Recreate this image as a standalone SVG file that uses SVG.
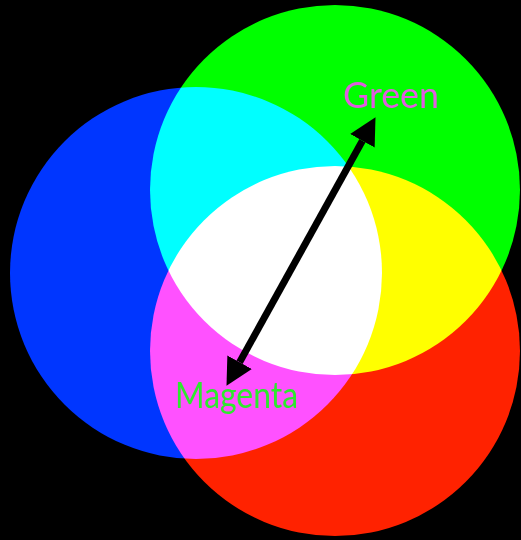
<svg xmlns="http://www.w3.org/2000/svg" width="521" height="540" viewBox="0 0 521 540">
  <style>
    .c { mix-blend-mode: screen; }
    .lbl { font-family: Lato, "Open Sans", "Liberation Sans", sans-serif; font-size: 36px; }
    .arrow { stroke: #000; stroke-width: 7; fill: none; }
  </style>
  <defs>
    <marker id="ah" markerUnits="userSpaceOnUse" markerWidth="28" markerHeight="28" refX="0" refY="14" orient="auto-start-reverse" viewBox="0 0 28 28">
      <path d="M0,0 L27,14 L0,28 z" fill="#000"/>
    </marker>
  </defs>
  <rect width="521" height="540" fill="#000"/>
  <g style="isolation:isolate">
    <g id="blue"><circle class="c" cx="196" cy="273" r="186" fill="#0036ff"/></g>
    <g id="green"><circle class="c" cx="335" cy="190" r="185" fill="#00ff00"/></g>
    <g id="red"><circle class="c" cx="335" cy="351" r="185" fill="#ff2200"/></g>
  </g>
  <g id="connectors">
    <line class="arrow" x1="239.6" y1="362.2" x2="362.4" y2="140.8" marker-start="url(#ah)" marker-end="url(#ah)"/>
  </g>
  <g id="label-green"><text class="lbl" x="343" y="108" fill="#e05ce0" textLength="96" lengthAdjust="spacingAndGlyphs">Green</text></g>
  <g id="label-magenta"><text class="lbl" x="175" y="408" fill="#2ee82e" textLength="123" lengthAdjust="spacingAndGlyphs">Magenta</text></g>
</svg>
